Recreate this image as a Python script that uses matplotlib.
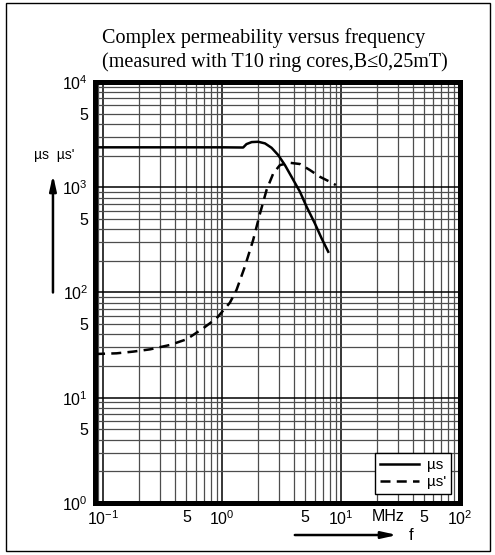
import numpy as np
import matplotlib
matplotlib.use('Agg')
import matplotlib.pyplot as plt
from matplotlib.ticker import LogLocator, FuncFormatter
from matplotlib.patches import Rectangle
from matplotlib.transforms import blended_transform_factory

# mu_s (solid) -- frequency in MHz
freq_s = [0.085, 0.5, 1.0, 1.5, 1.6, 1.77, 2.01, 2.29, 2.6, 2.96, 3.37, 3.83,
          4.51, 5.13, 6.02, 6.86, 7.8]
mu_s = [2400, 2400, 2400, 2390, 2576, 2692, 2710, 2616, 2376, 2025, 1627, 1259,
        907, 653, 454, 327, 244]

# mu_s' (dashed)
freq_s2 = [0.085, 0.129, 0.178, 0.247, 0.363, 0.502, 0.692, 0.897, 1.16, 1.32,
           1.55, 1.82, 2.08, 2.36, 2.69, 3.06, 3.71, 4.51, 5.47, 6.64, 8.05, 9.04]
mu_s2 = [26, 26.4, 27.4, 28.8, 31.7, 35.9, 45.7, 56.9, 80, 106,
         176, 315, 565, 941, 1358, 1627, 1710, 1665, 1459, 1259, 1129, 1051]

plt.rcParams['font.family'] = ['Liberation Sans', 'DejaVu Sans']
plt.rcParams['mathtext.fontset'] = 'custom'
plt.rcParams['mathtext.rm'] = 'Liberation Sans'
plt.rcParams['mathtext.it'] = 'Liberation Sans:italic'

fig = plt.figure(figsize=(4.95, 5.55), dpi=100)
ax = fig.add_axes([0.192, 0.094, 0.737, 0.758])

ax.plot(freq_s, mu_s, color='k', lw=1.8, label='µs')
ax.plot(freq_s2, mu_s2, color='k', lw=1.8, ls=(0, (4, 2.5)), label="µs'")

ax.set_xscale('log')
ax.set_yscale('log')
ax.set_xlim(0.085, 100)
ax.set_ylim(1, 1e4)

for axis in (ax.xaxis, ax.yaxis):
    axis.set_major_locator(LogLocator(base=10, numticks=12))
    axis.set_minor_locator(LogLocator(base=10, subs=np.arange(2, 10), numticks=12))


def major_fmt(v, pos):
    e = int(round(np.log10(v)))
    return r'$\mathregular{10^{%d}}$' % e


def minor_fmt(v, pos):
    m = v / 10 ** np.floor(np.log10(v) + 1e-9)
    return '5' if abs(m - 5) < 0.01 else ''


for axis in (ax.xaxis, ax.yaxis):
    axis.set_major_formatter(FuncFormatter(major_fmt))
    axis.set_minor_formatter(FuncFormatter(minor_fmt))

ax.grid(which='major', color='k', lw=1.1)
ax.grid(which='minor', color='#4d4d4d', lw=0.9)
ax.tick_params(which='both', length=0, labelsize=11.5, pad=5)
for sp in ax.spines.values():
    sp.set_linewidth(3.6)

trans = blended_transform_factory(ax.transData, ax.transAxes)
ax.text(25, -0.015, 'MHz', transform=trans, ha='center', va='top', fontsize=11.5)

ax.legend(loc='lower right', bbox_to_anchor=(0.975, 0.022), frameon=True,
          fancybox=False, edgecolor='k', framealpha=1, fontsize=11,
          handlelength=2.6, borderpad=0.3, labelspacing=0.2,
          handletextpad=0.5, borderaxespad=0)

# title
fig.text(0.206, 0.922, 'Complex permeability versus frequency',
         family=['Liberation Serif', 'DejaVu Serif'], fontsize=14.5, va='baseline')
fig.text(0.206, 0.880, '(measured with T10 ring cores,B≤0,25mT)',
         family=['Liberation Serif', 'DejaVu Serif'], fontsize=14.5, va='baseline')

# axis labels with arrows
fig.text(0.109, 0.721, "µs  µs'", ha='center', va='center', fontsize=10)
ax.annotate('', xy=(0.107, 0.69), xytext=(0.107, 0.468), xycoords='figure fraction',
            arrowprops=dict(arrowstyle='-|>,head_length=0.9,head_width=0.2',
                            color='k', lw=1.8, mutation_scale=10))
ax.annotate('', xy=(0.808, 0.036), xytext=(0.59, 0.036), xycoords='figure fraction',
            arrowprops=dict(arrowstyle='-|>,head_length=0.9,head_width=0.2',
                            color='k', lw=1.8, mutation_scale=10))
fig.text(0.826, 0.036, 'f', fontsize=12, va='center')

fig.patches.append(Rectangle((0.0121, 0.0072), 0.9778, 0.9874, transform=fig.transFigure,
                             fill=False, edgecolor='k', lw=1))

fig.savefig('out.png', dpi=100)
